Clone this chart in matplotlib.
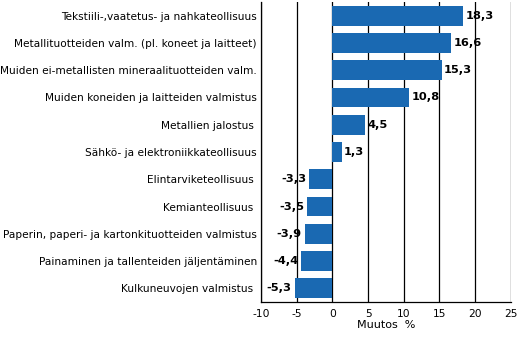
import matplotlib.pyplot as plt

categories = [
    "Tekstiili-,vaatetus- ja nahkateollisuus",
    "Metallituotteiden valm. (pl. koneet ja laitteet)",
    "Muiden ei-metallisten mineraalituotteiden valm.",
    "Muiden koneiden ja laitteiden valmistus",
    "Metallien jalostus ",
    "Sähkö- ja elektroniikkateollisuus",
    "Elintarviketeollisuus ",
    "Kemianteollisuus ",
    "Paperin, paperi- ja kartonkituotteiden valmistus",
    "Painaminen ja tallenteiden jäljentäminen",
    "Kulkuneuvojen valmistus ",
]
values = [18.3, 16.6, 15.3, 10.8, 4.5, 1.3, -3.3, -3.5, -3.9, -4.4, -5.3]
xticks = [-10, -5, 0, 5, 10, 15, 20, 25]

fig = plt.figure(figsize=(5.18, 3.37), dpi=100)
ax = fig.add_axes([0.504, 0.104, 0.482, 0.890])

pos = list(range(len(categories)))
ax.barh(pos, values, height=0.73, color="#1a69b2", zorder=3)

for y, v in zip(pos, values):
    label = f"{v:.1f}".replace(".", ",")
    if v >= 0:
        ax.text(v + 0.35, y, label, va="center", ha="left", fontsize=8.2,
                fontweight="bold", zorder=4)
    else:
        ax.text(v - 0.4, y, label, va="center", ha="right", fontsize=8.2,
                fontweight="bold", zorder=4)

ax.set_ylim(len(categories) - 0.5, -0.5)
ax.set_xlim(-10, 25)
ax.set_yticks(pos)
ax.set_yticklabels(categories, fontsize=7.55)
ax.set_xticks(xticks)
ax.set_xticklabels([str(t) for t in xticks], fontsize=7.7)
ax.tick_params(axis="y", length=0, pad=3)
ax.tick_params(axis="x", length=0, pad=5)
ax.xaxis.grid(True, color="black", linewidth=0.9, zorder=0)
ax.set_axisbelow(True)
for s in ["top", "right"]:
    ax.spines[s].set_visible(False)
ax.spines["left"].set_linewidth(0.9)
ax.spines["bottom"].set_linewidth(0.9)
ax.set_xlabel("Muutos  %", fontsize=8, labelpad=1)

fig.savefig("out.png", dpi=100)
